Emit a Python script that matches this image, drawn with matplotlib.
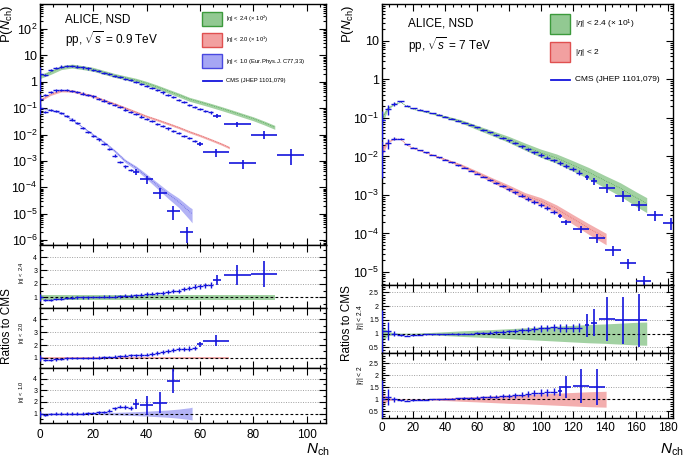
import numpy as np
import matplotlib
matplotlib.use("Agg")
import matplotlib.pyplot as plt
from matplotlib.patches import Rectangle
from matplotlib.lines import Line2D
from matplotlib.ticker import FixedLocator, LogLocator, NullFormatter, FuncFormatter, MultipleLocator

plt.rcParams['font.family'] = ['Liberation Sans', 'DejaVu Sans']
plt.rcParams['mathtext.fontset'] = 'custom'
plt.rcParams['mathtext.rm'] = 'Liberation Sans'
plt.rcParams['mathtext.it'] = 'Liberation Sans:italic'
plt.rcParams['mathtext.bf'] = 'Liberation Sans:bold'

# ================= data: pp 0.9 TeV (left) =================
# CMS |eta|<2.4 (x100), dense bins
L_CMS24_N = [0, 2, 4, 6, 8, 10, 12, 14, 16, 18, 20, 22, 24, 26, 28, 30, 32, 34, 36, 38,
             40, 42, 44, 46, 48, 50, 52, 54, 56, 58, 60, 62, 64]
L_CMS24_P = [2.0, 1.8, 2.8, 3.4, 3.8, 4.0, 4.0, 3.8, 3.5, 3.2, 2.9, 2.6, 2.2, 1.95, 1.7, 1.5,
             1.3, 1.15, 1.0, 0.85, 0.71, 0.59, 0.49, 0.40, 0.32, 0.26, 0.21, 0.17, 0.13, 0.11,
             0.093, 0.079, 0.069]
L_CMS24_RATIO = [1.0, 0.8, 0.8, 0.85, 0.9, 0.95, 0.97, 1.0, 1.0, 1.0, 1.02, 1.02, 1.03, 1.03,
                 1.04, 1.07, 1.1, 1.13, 1.16, 1.2, 1.25, 1.27, 1.3, 1.33, 1.4, 1.45, 1.5, 1.6,
                 1.7, 1.78, 1.83, 1.88, 1.92]
L_CMS24_WIDE_N = [66.5, 74, 84, 94]
L_CMS24_WIDE_P = [0.052, 0.025, 0.010, 0.0017]
L_CMS24_WIDE_HALF = [1.5, 5, 5, 5]
L_CMS24_WIDE_ERR = [0.15, 0.2, 0.35, 0.6]
L_CMS24_WIDE_RATIO = [2.28, 2.65, 2.75]
L_CMS24_WIDE_RERR = [0.4, 0.75, 0.95]

L_ALICE24_N = [0, 4, 8, 12, 16, 20, 24, 28, 32, 36, 40, 44, 48, 52, 56, 60, 64, 68, 72, 76, 80, 84, 88]
L_ALICE24_P = [1.6, 2.3, 3.5, 4.0, 3.5, 3.0, 2.3, 1.77, 1.43, 1.16, 0.88, 0.64, 0.45, 0.32, 0.22,
               0.17, 0.13, 0.098, 0.073, 0.054, 0.04, 0.028, 0.019]
L_ALICE24_REL = 0.17

# CMS |eta|<2.0 (x10)
L_CMS20_N = [0, 2, 4, 6, 8, 10, 12, 14, 16, 18, 20, 22, 24, 26, 28, 30, 32, 34, 36, 38,
             40, 42, 44, 46, 48, 50, 52, 54, 56, 58]
L_CMS20_P = [0.22, 0.32, 0.41, 0.47, 0.49, 0.48, 0.45, 0.41, 0.36, 0.32, 0.28, 0.23, 0.195, 0.16,
             0.135, 0.11, 0.089, 0.072, 0.059, 0.048, 0.039, 0.032, 0.026, 0.021, 0.017, 0.0138,
             0.0112, 0.0091, 0.0074, 0.0056]
L_CMS20_RATIO = [1.0, 0.8, 0.82, 0.87, 0.92, 0.96, 1.0, 1.0, 1.0, 1.0, 1.01, 1.02, 1.03, 1.05,
                 1.08, 1.12, 1.15, 1.18, 1.2, 1.22, 1.25, 1.3, 1.37, 1.45, 1.52, 1.6, 1.66, 1.7,
                 1.72, 1.75]
L_CMS20_WIDE_N = [60, 66, 76]
L_CMS20_WIDE_P = [0.0045, 0.0021, 0.0008]
L_CMS20_WIDE_HALF = [1.25, 5, 5]
L_CMS20_WIDE_ERR = [0.15, 0.35, 0.4]
L_CMS20_WIDE_RATIO = [2.05, 2.35]
L_CMS20_WIDE_RERR = [0.2, 0.45]

L_ALICE20_N = [0, 4, 8, 12, 16, 20, 24, 28, 32, 36, 40, 44, 48, 52, 56, 60, 64, 68, 71]
L_ALICE20_P = [0.2, 0.34, 0.46, 0.45, 0.36, 0.285, 0.2, 0.146, 0.102, 0.071, 0.049, 0.036, 0.026,
               0.0186, 0.0128, 0.0092, 0.0064, 0.0044, 0.0032]
L_ALICE20_REL = 0.1

# CMS |eta|<1.0 (Eur.Phys.J. C77,33)
L_CMS10_N = [0, 2, 4, 6, 8, 10, 12, 14, 16, 18, 20, 22, 24, 26, 28, 30, 32, 34]
L_CMS10_P = [0.10, 0.072, 0.085, 0.08, 0.065, 0.05, 0.037, 0.027, 0.018, 0.0129, 0.0091, 0.0065,
             0.0044, 0.0028, 0.0016, 0.0009, 0.00062, 0.00045]
L_CMS10_RATIO = [1.0, 0.85, 0.95, 1.0, 1.0, 1.0, 1.0, 1.0, 1.0, 1.02, 1.05, 1.1, 1.15, 1.25, 1.45,
                 1.6, 1.55, 1.5]
L_CMS10_WIDE_N = [36, 40, 45, 50, 55]
L_CMS10_WIDE_P = [3.8e-4, 2.0e-4, 6.3e-5, 1.25e-5, 2.0e-6]
L_CMS10_WIDE_HALF = [1.25, 2.5, 2.5, 2.5, 2.5]
L_CMS10_WIDE_ERR = [0.25, 0.35, 0.45, 0.55, 0.6]
L_CMS10_WIDE_RATIO = [1.83, 1.7, 1.95, 3.8]
L_CMS10_WIDE_RERR = [0.45, 0.8, 0.9, 1.0]

L_ALICE10_N = [0, 4, 8, 12, 16, 20, 24, 28, 32, 36, 40, 44, 48, 52, 56, 57]
L_ALICE10_P = [0.1, 0.085, 0.065, 0.037, 0.019, 0.0098, 0.0052, 0.0024, 0.001, 0.00055, 0.00026,
               0.00012, 5.5e-5, 2.8e-5, 1.2e-5, 1.0e-5]
L_ALICE10_REL = [0.06, 0.05, 0.05, 0.05, 0.06, 0.07, 0.09, 0.11, 0.14, 0.17, 0.21, 0.26, 0.31, 0.39,
                 0.5, 0.55]

L_CMS_REL = 0.1            # error of the dense CMS bins
L_CMS_REL_N0 = [0.78, 0.5, 0.4]   # first bin (N=0) of 2.4, 2.0, 1.0

# ================= data: pp 7 TeV (right) =================
R_CMS24_N = [0, 4, 8, 12, 16, 20, 24, 28, 32, 36, 40, 44, 48, 52, 56, 60, 64, 68, 72, 76, 80,
             84, 88, 92, 96, 100, 104, 108, 112, 116, 120, 124]
R_CMS24_P = [0.09, 0.17, 0.23, 0.27, 0.21, 0.18, 0.163, 0.148, 0.134, 0.121, 0.108, 0.096, 0.085,
             0.075, 0.066, 0.057, 0.049, 0.042, 0.036, 0.031, 0.026, 0.022, 0.0185, 0.0155, 0.013,
             0.011, 0.0093, 0.0079, 0.0067, 0.0057, 0.0047, 0.0038]
R_CMS24_ERR = [0.7, 0.3, 0.1, 0.04, 0.03, 0.02, 0.02, 0.02, 0.02, 0.02, 0.02, 0.02, 0.03, 0.03,
               0.03, 0.04, 0.04, 0.05, 0.05, 0.06, 0.06, 0.07, 0.08, 0.08, 0.09, 0.1, 0.1, 0.11,
               0.12, 0.12, 0.13, 0.14]
R_CMS24_RATIO = [1.1, 1.1, 1.0, 0.95, 0.93, 0.95, 0.96, 0.97, 0.97, 0.98, 0.98, 0.99, 0.99, 1.0,
                 1.0, 1.01, 1.02, 1.04, 1.05, 1.06, 1.08, 1.1, 1.12, 1.14, 1.17, 1.19, 1.21, 1.23,
                 1.22, 1.2, 1.2, 1.22]
R_CMS24_WIDE_N = [129, 133.5, 141.5, 151.5, 161.5, 171.5, 181.5]
R_CMS24_WIDE_P = [0.0029, 0.0023, 0.0015, 0.00095, 0.00055, 0.0003, 0.00019]
R_CMS24_WIDE_HALF = [1.5, 2, 5, 5, 5, 5, 5]
R_CMS24_WIDE_ERR = [0.15, 0.2, 0.25, 0.3, 0.3, 0.3, 0.35]
R_CMS24_WIDE_RATIO = [1.3, 1.4, 1.52, 1.48, 1.48]
R_CMS24_WIDE_RERR = [0.42, 0.5, 0.8, 0.85, 0.95]

R_ALICE24_N = [0, 4, 8, 12, 16, 20, 30, 40, 50, 60, 70, 80, 90, 100, 110, 120, 130, 140, 150, 160, 166.5]
R_ALICE24_P = [0.09, 0.18, 0.23, 0.26, 0.2, 0.17, 0.138, 0.107, 0.082, 0.057, 0.040, 0.028, 0.0185,
               0.0125, 0.0091, 0.006, 0.0039, 0.0024, 0.0015, 0.00085, 0.0006]
R_ALICE24_REL = [0.3, 0.08, 0.03, 0.02, 0.02, 0.02, 0.04, 0.07, 0.1, 0.125, 0.15, 0.18, 0.21, 0.24,
                 0.27, 0.3, 0.33, 0.35, 0.38, 0.41, 0.42]

R_CMS20_N = [0, 4, 8, 12, 16, 20, 24, 28, 32, 36, 40, 44, 48, 52, 56, 60, 64, 68, 72, 76, 80,
             84, 88, 92, 96, 100, 104, 108]
R_CMS20_P = [0.014, 0.022, 0.029, 0.029, 0.021, 0.017, 0.0148, 0.0128, 0.011, 0.0095, 0.0082,
             0.007, 0.006, 0.0051, 0.0043, 0.0036, 0.0030, 0.0025, 0.0021, 0.00172, 0.00142,
             0.00117, 0.00096, 0.00079, 0.00066, 0.00056, 0.00046, 0.00037]
R_CMS20_ERR = [0.8, 0.3, 0.1, 0.04, 0.03, 0.02, 0.02, 0.02, 0.02, 0.02, 0.03, 0.03, 0.03, 0.04,
               0.04, 0.05, 0.05, 0.06, 0.06, 0.07, 0.08, 0.08, 0.09, 0.1, 0.1, 0.11, 0.12, 0.12]
R_CMS20_RATIO = [1.0, 1.1, 1.0, 0.95, 0.94, 0.96, 0.97, 0.98, 0.99, 1.0, 1.02, 1.03, 1.04, 1.05,
                 1.06, 1.07, 1.08, 1.1, 1.11, 1.12, 1.14, 1.16, 1.19, 1.21, 1.24, 1.27, 1.29, 1.32]
R_CMS20_WIDE_N = [112, 116, 125, 135, 145.5, 155, 164.5]
R_CMS20_WIDE_P = [0.00029, 0.000194, 0.00013, 7.6e-5, 3.7e-5, 1.7e-5, 6e-6]
R_CMS20_WIDE_HALF = [1.5, 3, 5, 5, 5, 5, 5]
R_CMS20_WIDE_ERR = [0.12, 0.15, 0.2, 0.25, 0.3, 0.3, 0.35]
R_CMS20_WIDE_RATIO = [1.35, 1.52, 1.55, 1.49]
R_CMS20_WIDE_RERR = [0.2, 0.46, 0.7, 0.75]

R_ALICE20_N = [0, 4, 8, 12, 16, 20, 30, 40, 50, 60, 70, 80, 90, 100, 110, 120, 130, 141]
R_ALICE20_P = [0.014, 0.024, 0.029, 0.028, 0.02, 0.0163, 0.0118, 0.0084, 0.0059, 0.0038, 0.0024,
               0.00155, 0.00097, 0.0007, 0.00044, 0.000245, 0.000138, 7.6e-5]
R_ALICE20_REL = [0.3, 0.06, 0.03, 0.02, 0.02, 0.02, 0.03, 0.055, 0.085, 0.11, 0.14, 0.17, 0.19,
                 0.22, 0.25, 0.28, 0.31, 0.33]

# ================= style =================
CMS = '#1414dc'
GREEN_FILL, GREEN_EDGE = '#92c992', '#3c9a3c'
RED_FILL, RED_EDGE = '#f2a0a0', '#e05050'
BLUE_FILL, BLUE_EDGE = '#a6a6f4', '#4848e0'
GRID = '#a0a0a0'

W, H = 685, 459
fig = plt.figure(figsize=(W / 100, H / 100), dpi=100)


def px_axes(x0, y0, x1, y1):
    return fig.add_axes([x0 / W, 1 - y1 / H, (x1 - x0) / W, (y1 - y0) / H])


def ftext(x, y, s, **kw):
    fig.text(x / W, 1 - y / H, s, **kw)


def style(ax):
    ax.tick_params(which='both', direction='in', top=True, right=True, width=0.8)
    ax.tick_params(which='major', length=5)
    ax.tick_params(which='minor', length=2.5)
    for s in ax.spines.values():
        s.set_linewidth(1.0)


def log_label(v, pos):
    e = int(round(np.log10(v)))
    if e == 0:
        return '1'
    if e == 1:
        return '10'
    return r'$10^{%d}$' % e


def band(ax, n, p, rel, fill, edge):
    n = np.asarray(n, float)
    p = np.asarray(p, float)
    rel = np.broadcast_to(np.asarray(rel, float), p.shape)
    ax.fill_between(n, p * (1 - rel), p * (1 + rel), color=fill, lw=0, alpha=0.85, zorder=1)
    ax.plot(n, p, color=edge, lw=0.5, ls=':', zorder=2)


def ratio_band(ax, n, rel, fill):
    n = np.asarray(n, float)
    rel = np.broadcast_to(np.asarray(rel, float), n.shape)
    ax.fill_between(n, 1 - rel, 1 + rel, color=fill, lw=0, alpha=0.85, zorder=1)


def cms(ax, n, p, rel, half, lw=1.0):
    p = np.asarray(p, float)
    ax.errorbar(n, p, yerr=p * np.asarray(rel, float), xerr=half, fmt='none',
                ecolor=CMS, elinewidth=lw, capsize=0, zorder=5)


def main_axes(ax, xlim, ylim, decades):
    ax.set_xlim(*xlim)
    ax.set_yscale('log')
    ax.set_ylim(*ylim)
    ax.yaxis.set_major_locator(FixedLocator([10.0 ** d for d in decades]))
    ax.yaxis.set_major_formatter(FuncFormatter(log_label))
    ax.yaxis.set_minor_locator(LogLocator(base=10, subs=np.arange(2, 10), numticks=30))
    ax.yaxis.set_minor_formatter(NullFormatter())
    ax.xaxis.set_major_locator(MultipleLocator(20))
    ax.xaxis.set_minor_locator(MultipleLocator(5))
    style(ax)
    ax.tick_params(axis='y', labelsize=9, pad=2)
    ax.tick_params(axis='x', labelbottom=False)


def ratio_axes(ax, xlim, ylim, yticks, bottom, minor):
    ax.set_xlim(*xlim)
    ax.set_ylim(*ylim)
    ax.set_yticks(yticks)
    ax.set_yticklabels([('%g' % t) for t in yticks])
    ax.yaxis.set_minor_locator(MultipleLocator(minor))
    ax.xaxis.set_major_locator(MultipleLocator(20))
    ax.xaxis.set_minor_locator(MultipleLocator(5))
    style(ax)
    ax.tick_params(axis='y', labelsize=5, pad=2)
    ax.tick_params(axis='x', labelsize=8.5, labelbottom=bottom)
    for t in yticks:
        if t != 1:
            ax.axhline(t, color=GRID, lw=0.7, ls=(0, (1, 1.5)), zorder=0)
    ax.axhline(1, color='black', lw=0.8, ls=(0, (2.5, 2)), zorder=3)


def n0_err(n, rel_n0):
    e = np.full(len(n), L_CMS_REL)
    e[0] = rel_n0
    return e


# ----------------- left panel -----------------
LX0, LX1, LXMAX = 40, 326, 107.2
axL = px_axes(LX0, 4, LX1, 245)
main_axes(axL, (0, LXMAX), (6.5e-7, 890), range(-6, 3))
band(axL, L_ALICE24_N, L_ALICE24_P, L_ALICE24_REL, GREEN_FILL, GREEN_EDGE)
band(axL, L_ALICE20_N, L_ALICE20_P, L_ALICE20_REL, RED_FILL, RED_EDGE)
band(axL, L_ALICE10_N, L_ALICE10_P, L_ALICE10_REL, BLUE_FILL, BLUE_EDGE)
cms(axL, L_CMS24_N, L_CMS24_P, n0_err(L_CMS24_N, L_CMS_REL_N0[0]), 1)
cms(axL, L_CMS20_N, L_CMS20_P, n0_err(L_CMS20_N, L_CMS_REL_N0[1]), 1)
cms(axL, L_CMS10_N, L_CMS10_P, n0_err(L_CMS10_N, L_CMS_REL_N0[2]), 1)
cms(axL, L_CMS24_WIDE_N, L_CMS24_WIDE_P, L_CMS24_WIDE_ERR, L_CMS24_WIDE_HALF, 1.2)
cms(axL, L_CMS20_WIDE_N, L_CMS20_WIDE_P, L_CMS20_WIDE_ERR, L_CMS20_WIDE_HALF, 1.2)
cms(axL, L_CMS10_WIDE_N, L_CMS10_WIDE_P, L_CMS10_WIDE_ERR, L_CMS10_WIDE_HALF, 1.2)

left_ratios = [
    (245, 308, L_ALICE24_N, L_ALICE24_REL, GREEN_FILL, L_CMS24_N, L_CMS24_RATIO,
     L_CMS24_WIDE_N[:3], L_CMS24_WIDE_RATIO, L_CMS24_WIDE_RERR, L_CMS24_WIDE_HALF[:3], r'$|\eta|$ < 2.4', 272),
    (308, 368, L_ALICE20_N, L_ALICE20_REL, RED_FILL, L_CMS20_N, L_CMS20_RATIO,
     L_CMS20_WIDE_N[:2], L_CMS20_WIDE_RATIO, L_CMS20_WIDE_RERR, L_CMS20_WIDE_HALF[:2], r'$|\eta|$ < 2.0', 333),
    (368, 423, L_ALICE10_N, L_ALICE10_REL, BLUE_FILL, L_CMS10_N, L_CMS10_RATIO,
     L_CMS10_WIDE_N[:4], L_CMS10_WIDE_RATIO, L_CMS10_WIDE_RERR, L_CMS10_WIDE_HALF[:4], r'$|\eta|$ < 1.0', 392),
]
for i, (y0, y1, bn, brel, fill, cn, cr, wn, wr, we, wh, lab, ly) in enumerate(left_ratios):
    ax = px_axes(LX0, y0, LX1, y1)
    ratio_axes(ax, (0, LXMAX), (0.2, 4.9), [1, 2, 3, 4], i == 2, 0.5)
    ratio_band(ax, bn, brel, fill)
    cr = np.asarray(cr)
    ax.errorbar(cn, cr, yerr=cr * n0_err(cn, 0.25), xerr=1, fmt='none', ecolor=CMS,
                elinewidth=1.0, capsize=0, zorder=5)
    ax.errorbar(wn, wr, yerr=we, xerr=wh, fmt='none', ecolor=CMS, elinewidth=1.2, capsize=0, zorder=5)
    if i == 2:
        ax.tick_params(axis='x', pad=4.5)
    ftext(21.5, ly, lab, rotation=90, ha='center', va='center', fontsize=4.2)

# ----------------- right panel -----------------
RX0, RX1, RXMAX = 381.5, 673, 183
axR = px_axes(RX0, 4, RX1, 285)
main_axes(axR, (0, RXMAX), (4.6e-6, 91), range(-5, 2))
band(axR, R_ALICE24_N, R_ALICE24_P, R_ALICE24_REL, GREEN_FILL, GREEN_EDGE)
band(axR, R_ALICE20_N, R_ALICE20_P, R_ALICE20_REL, RED_FILL, RED_EDGE)
cms(axR, R_CMS24_N, R_CMS24_P, R_CMS24_ERR, 2)
cms(axR, R_CMS20_N, R_CMS20_P, R_CMS20_ERR, 2)
cms(axR, R_CMS24_WIDE_N, R_CMS24_WIDE_P, R_CMS24_WIDE_ERR, R_CMS24_WIDE_HALF, 1.2)
cms(axR, R_CMS20_WIDE_N, R_CMS20_WIDE_P, R_CMS20_WIDE_ERR, R_CMS20_WIDE_HALF, 1.2)

right_ratios = [
    (285, 353, (0.3, 2.76), R_ALICE24_N, R_ALICE24_REL, GREEN_FILL, R_CMS24_N, R_CMS24_RATIO, R_CMS24_ERR,
     R_CMS24_WIDE_N[:5], R_CMS24_WIDE_RATIO, R_CMS24_WIDE_RERR, R_CMS24_WIDE_HALF[:5], r'$|\eta|$ < 2.4', 317),
    (353, 418, (0.22, 2.92), R_ALICE20_N, R_ALICE20_REL, RED_FILL, R_CMS20_N, R_CMS20_RATIO, R_CMS20_ERR,
     R_CMS20_WIDE_N[:4], R_CMS20_WIDE_RATIO, R_CMS20_WIDE_RERR, R_CMS20_WIDE_HALF[:4], r'$|\eta|$ < 2', 375),
]
for i, (y0, y1, ylim, bn, brel, fill, cn, cr, ce, wn, wr, we, wh, lab, ly) in enumerate(right_ratios):
    ax = px_axes(RX0, y0, RX1, y1)
    ratio_axes(ax, (0, RXMAX), ylim, [0.5, 1, 1.5, 2, 2.5], i == 1, 0.1)
    ratio_band(ax, bn, brel, fill)
    cr = np.asarray(cr)
    ax.errorbar(cn, cr, yerr=cr * np.asarray(ce), xerr=2, fmt='none', ecolor=CMS,
                elinewidth=1.0, capsize=0, zorder=5)
    ax.errorbar(wn, wr, yerr=we, xerr=wh, fmt='none', ecolor=CMS, elinewidth=1.2, capsize=0, zorder=5)
    if i == 1:
        ax.tick_params(axis='x', pad=3)
    ftext(360, ly, lab, rotation=90, ha='center', va='center', fontsize=4.8)

# ----------------- labels -----------------
ftext(7.5, 4, r'P($N_{\mathrm{ch}}$)', rotation=90, ha='center', va='top', fontsize=9.5)
ftext(347.5, 4, r'P($N_{\mathrm{ch}}$)', rotation=90, ha='center', va='top', fontsize=9.5)
ftext(7, 326, 'Ratios to CMS', rotation=90, ha='center', va='center', fontsize=8.5)
ftext(347.5, 323, 'Ratios to CMS', rotation=90, ha='center', va='center', fontsize=8.5)
ftext(330, 450, r'$N_{\mathrm{ch}}$', ha='right', va='center', fontsize=11)
ftext(684, 450, r'$N_{\mathrm{ch}}$', ha='right', va='center', fontsize=11)

ftext(65, 19, 'ALICE, NSD', ha='left', va='center', fontsize=8.5)
ftext(65, 39, r'pp, $\sqrt{s}$ = 0.9 TeV', ha='left', va='center', fontsize=8.5)
ftext(408, 23, 'ALICE, NSD', ha='left', va='center', fontsize=8.5)
ftext(408, 45, r'pp, $\sqrt{s}$ = 7 TeV', ha='left', va='center', fontsize=8.5)


def leg_box(x0, y0, x1, y1, fill, edge):
    fig.add_artist(Rectangle((x0 / W, 1 - y1 / H), (x1 - x0) / W, (y1 - y0) / H,
                             transform=fig.transFigure, facecolor=fill, edgecolor=edge, lw=1.0))


def leg_line(x0, x1, y):
    fig.add_artist(Line2D([x0 / W, x1 / W], [1 - y / H, 1 - y / H], transform=fig.transFigure,
                          color=CMS, lw=1.3))


leg_box(202, 12, 222, 26, GREEN_FILL, GREEN_EDGE)
leg_box(202, 33, 222, 47, RED_FILL, RED_EDGE)
leg_box(202, 54, 222, 68, BLUE_FILL, BLUE_EDGE)
leg_line(203, 222, 80.5)
ftext(226, 19, r'$|\eta|$ < 2.4 ($\times$ 10$^{2}$)', va='center', fontsize=4.2)
ftext(226, 40, r'$|\eta|$ < 2.0 ($\times$ 10$^{1}$)', va='center', fontsize=4.2)
ftext(226, 61, r'$|\eta|$ < 1.0 (Eur.Phys.J. C77,33)', va='center', fontsize=4.2)
ftext(226, 80.5, 'CMS (JHEP 1101,079)', va='center', fontsize=4.2)

leg_box(550, 14, 570, 34, GREEN_FILL, GREEN_EDGE)
leg_box(550, 42, 570, 62, RED_FILL, RED_EDGE)
leg_line(551, 570, 79.5)
ftext(575, 24, r'$|\eta|$ < 2.4 ($\times$ 10$^{1}$)', va='center', fontsize=6)
ftext(575, 52, r'$|\eta|$ < 2', va='center', fontsize=6)
ftext(575, 79.5, 'CMS (JHEP 1101,079)', va='center', fontsize=6)

fig.savefig('out.png', dpi=100)
